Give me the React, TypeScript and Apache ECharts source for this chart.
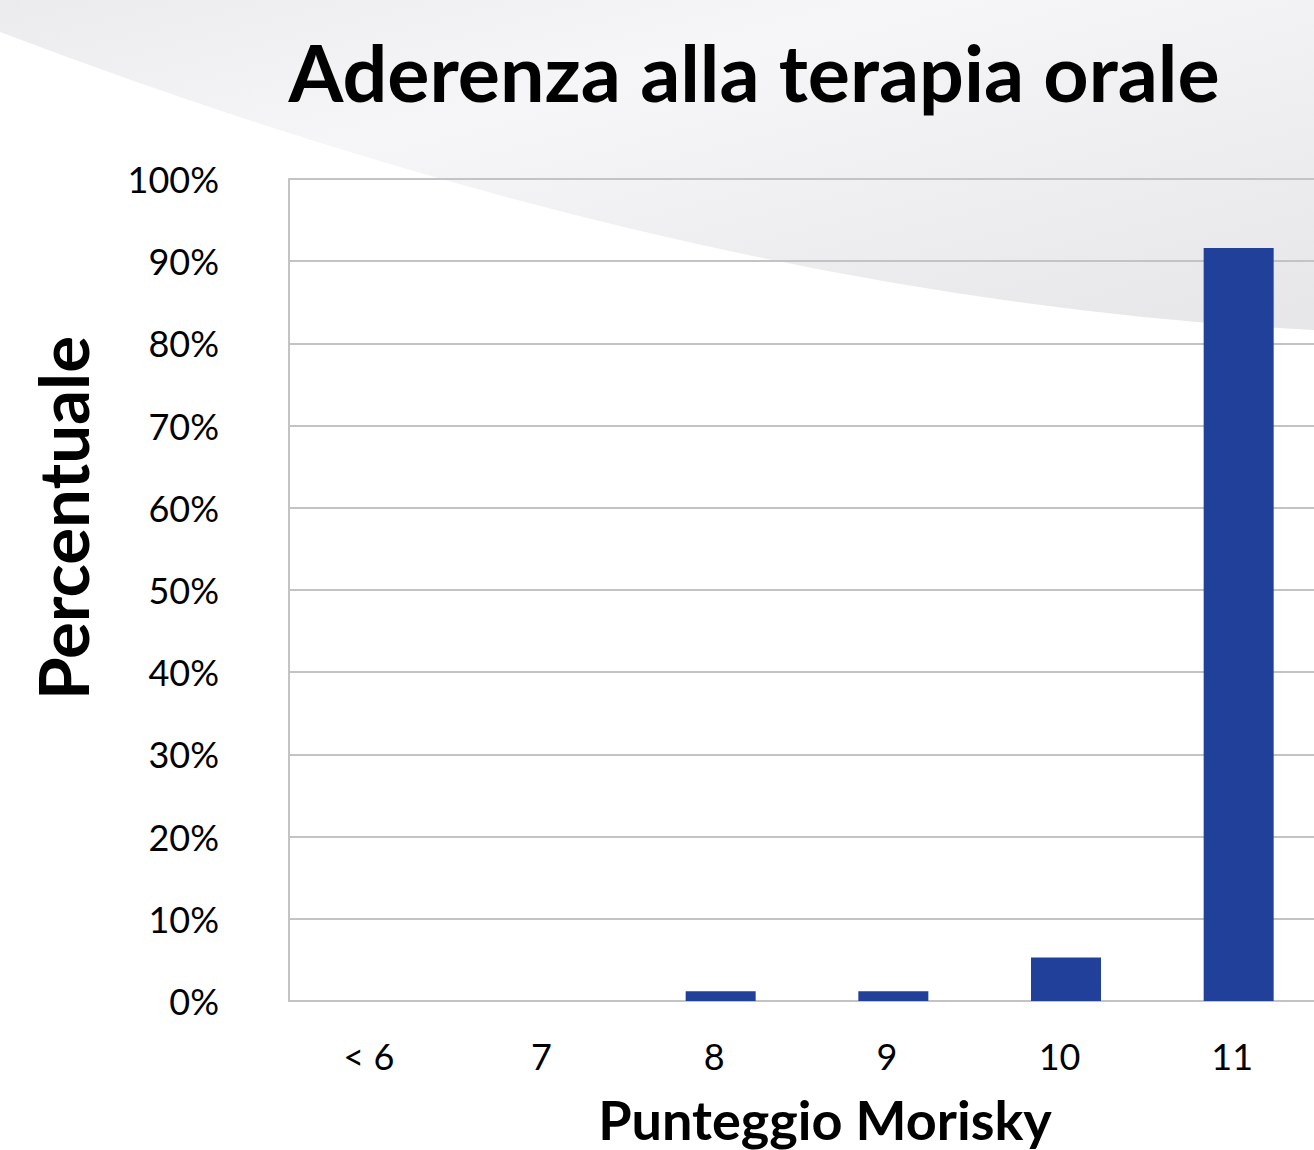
import React, { useEffect, useRef } from "react";
import * as echarts from "echarts";

const categories = ["< 6", "7", "8", "9", "10", "11"];
const percentages = [0, 0, 1.2, 1.2, 5.3, 91.6];
const yMin = 0;
const yMax = 100;
const yInterval = 10;
const titleText = "Aderenza alla terapia orale";
const xAxisName = "Punteggio Morisky";
const yAxisName = "Percentuale";

const swooshPath = "M0 0 L1314 0 L1314 330 Q704 299.5 0 32 Z";
echarts.graphic.registerShape("swoosh", echarts.graphic.extendPath(swooshPath, {}) as any);

const FONT = "Lato, 'Open Sans', sans-serif";

export default function App() {
  const ref = useRef<HTMLDivElement>(null);
  useEffect(() => {
    if (!ref.current) return;
    const chart = echarts.init(ref.current, null, { renderer: "svg" });
    chart.setOption({
      animation: false,
      backgroundColor: "#ffffff",
      graphic: [
        {
          type: "swoosh",
          x: 0,
          y: 0,
          z: -100,
          silent: true,
          style: {
            fill: new echarts.graphic.LinearGradient(0, 0, 1, 1, [
              { offset: 0, color: "#ebebee" },
              { offset: 0.35, color: "#f6f6f8" },
              { offset: 0.7, color: "#ededef" },
              { offset: 1, color: "#e6e6e8" },
            ]),
          },
        },
        {
          type: "text",
          x: 754,
          y: 71,
          z: 10,
          style: {
            text: titleText,
            font: `bold 79px ${FONT}`,
            fill: "#000000",
            align: "center",
            verticalAlign: "middle",
          },
        },
        {
          type: "text",
          x: 825,
          y: 1119,
          z: 10,
          style: {
            text: xAxisName,
            font: `bold 54px ${FONT}`,
            fill: "#000000",
            align: "center",
            verticalAlign: "middle",
          },
        },
        {
          type: "text",
          x: 62,
          y: 518,
          rotation: Math.PI / 2,
          z: 10,
          style: {
            text: yAxisName,
            font: `bold 69px ${FONT}`,
            fill: "#000000",
            align: "center",
            verticalAlign: "middle",
          },
        },
      ],
      grid: {
        left: 289,
        width: 1036,
        top: 179,
        height: 822,
        containLabel: false,
        outerBoundsMode: "none",
      },
      xAxis: {
        type: "category",
        data: categories,
        boundaryGap: true,
        axisTick: { show: false },
        axisLine: { show: true, lineStyle: { color: "#c3c3c6", width: 2 } },
        axisLabel: {
          color: "#000000",
          fontFamily: FONT,
          fontSize: 36,
          margin: 55,
          verticalAlign: "middle",
          padding: [0, 13, 0, 0],
        },
      },
      yAxis: {
        type: "value",
        min: yMin,
        max: yMax,
        interval: yInterval,
        axisLine: { show: true, lineStyle: { color: "#c3c3c6", width: 2 } },
        axisTick: { show: false },
        splitLine: { show: true, lineStyle: { color: "#c3c3c6", width: 2 } },
        axisLabel: {
          color: "#000000",
          fontFamily: FONT,
          fontSize: 36,
          margin: 70,
          formatter: (v: number) => `${v}%`,
        },
      },
      series: [
        {
          type: "bar",
          data: percentages,
          barWidth: 70,
          itemStyle: { color: "#21409a", borderWidth: 0 },
        },
      ],
    });
    return () => chart.dispose();
  }, []);
  return (
    <div
      ref={ref}
      style={{ position: "absolute", left: 0, top: 0, width: 1314, height: 1150 }}
    />
  );
}
